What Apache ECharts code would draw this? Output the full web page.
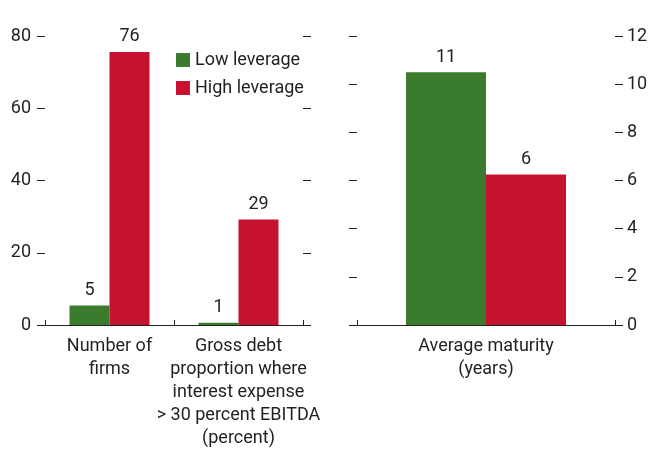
<!DOCTYPE html>
<html>
<head>
<meta charset="utf-8">
<script src="https://cdn.jsdelivr.net/npm/echarts@6/dist/echarts.min.js"></script>
<style>
  html, body { margin: 0; padding: 0; background: #fff; }
  #myChart { width: 663px; height: 452px; }
</style>
</head>
<body>
<div id="myChart"></div>
<script>
// left panel
var leftCategories = ['Number of\nfirms', 'Gross debt\nproportion where\ninterest expense\n> 30 percent EBITDA\n(percent)'];
var leftLow = [5.4, 0.6];
var leftHigh = [75.6, 29.2];
// right panel
var rightCategories = ['Average maturity\n(years)'];
var rightLow = [10.5];
var rightHigh = [6.25];
var seriesNames = ['Low leverage', 'High leverage'];

var lowColor = '#3a7b2d';
var highColor = '#c41230';
var ink = '#231f20';
var font = 'Roboto';

var myChart = echarts.init(document.getElementById('myChart'));

function valueAxis(grid, pos, max, step, showLabel) {
    return {
        type: 'value',
        gridIndex: grid,
        position: pos,
        min: 0,
        max: max,
        interval: step,
        axisLine: { show: false },
        axisTick: { show: true, inside: false, length: 8, lineStyle: { color: ink, width: 1 } },
        splitLine: { show: false },
        axisLabel: {
            show: showLabel,
            margin: pos === 'left' ? 14 : 12,
            color: ink,
            fontFamily: font,
            fontSize: 18
        }
    };
}

function catAxis(grid, data) {
    return {
        type: 'category',
        gridIndex: grid,
        data: data,
        boundaryGap: true,
        axisLine: { lineStyle: { color: ink, width: 1 } },
        axisTick: { show: true, inside: true, length: 5, interval: 0, lineStyle: { color: ink } },
        axisLabel: {
            interval: 0,
            margin: 10,
            color: ink,
            fontFamily: font,
            fontSize: 18,
            lineHeight: 23
        }
    };
}

function barSeries(name, data, xi, yi, color, width) {
    return {
        name: name,
        type: 'bar',
        xAxisIndex: xi,
        yAxisIndex: yi,
        data: data,
        barWidth: width,
        barGap: '0%',
        itemStyle: { color: color },
        label: {
            show: true,
            position: 'top',
            distance: 6,
            color: ink,
            fontFamily: font,
            fontSize: 18,
            formatter: function (p) { return Math.round(p.value); }
        }
    };
}

myChart.setOption({
    backgroundColor: '#fff',
    animation: false,
    legend: {
        data: seriesNames,
        orient: 'vertical',
        left: 171,
        top: 45,
        itemWidth: 14,
        itemHeight: 14,
        itemGap: 8,
        icon: 'rect',
        textStyle: { color: ink, fontFamily: font, fontSize: 18, lineHeight: 20 }
    },
    grid: [
        { left: 45, top: 36, width: 258, height: 289 },
        { left: 357, top: 36, width: 258, height: 289 }
    ],
    xAxis: [catAxis(0, leftCategories), catAxis(1, rightCategories)],
    yAxis: [
        valueAxis(0, 'left', 80, 20, true),
        valueAxis(0, 'right', 80, 20, false),
        valueAxis(1, 'left', 12, 2, false),
        valueAxis(1, 'right', 12, 2, true)
    ],
    series: [
        barSeries(seriesNames[0], leftLow, 0, 0, lowColor, 40),
        barSeries(seriesNames[1], leftHigh, 0, 0, highColor, 40),
        barSeries(seriesNames[0], rightLow, 1, 3, lowColor, 80),
        barSeries(seriesNames[1], rightHigh, 1, 3, highColor, 80)
    ]
});
</script>
</body>
</html>
